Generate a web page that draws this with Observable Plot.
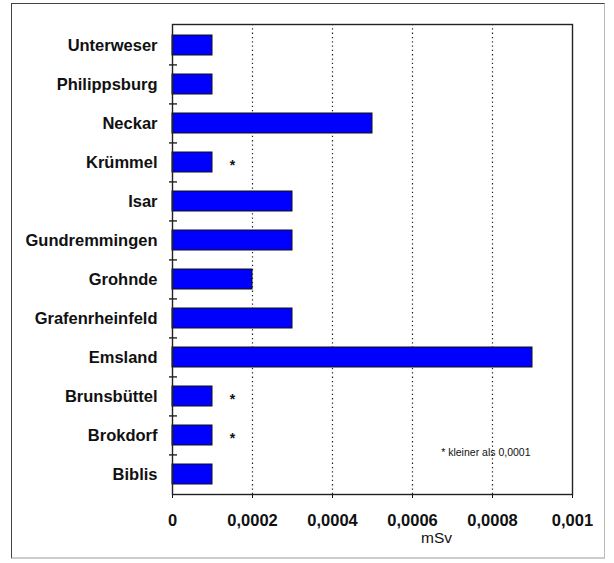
<!DOCTYPE html>
<html>
<head>
<meta charset="utf-8">
<script src="https://cdn.jsdelivr.net/npm/d3@7"></script>
<script src="https://cdn.jsdelivr.net/npm/@observablehq/plot@0.6"></script>
<style>
  html, body { margin: 0; padding: 0; background: #fff; }
  #wrap { position: relative; width: 614px; height: 563px; }
  #border { position: absolute; left: 11px; top: 3px; width: 594px; height: 556px;
            border-left: 1.5px solid #444; border-top: 1.5px solid #444;
            border-right: 1px solid #bbb; border-bottom: 2px solid #ccc; box-sizing: border-box; }
  #chart { position: absolute; left: 0; top: 0; }
</style>
</head>
<body>
<div id="wrap"><div id="border"></div><div id="chart"></div></div>
<script>
const categories = ["Unterweser", "Philippsburg", "Neckar", "Krümmel", "Isar", "Gundremmingen",
  "Grohnde", "Grafenrheinfeld", "Emsland", "Brunsbüttel", "Brokdorf", "Biblis"];
const values = [0.0001, 0.0001, 0.0005, 0.0001, 0.0003, 0.0003,
  0.0002, 0.0003, 0.0009, 0.0001, 0.0001, 0.0001];
const belowLimit = [false, false, false, true, false, false,
  false, false, false, true, true, false];
const xTicks = [0, 0.0002, 0.0004, 0.0006, 0.0008, 0.001];
const xTickLabels = ["0", "0,0002", "0,0004", "0,0006", "0,0008", "0,001"];
const gridTicks = [0.0002, 0.0004, 0.0006, 0.0008];
const unitLabel = "mSv";
const footnote = "* kleiner als 0,0001";

const data = categories.map((c, i) => ({name: c, value: values[i], flag: belowLimit[i]}));

const W = 614, H = 563, mL = 172, mR = 42, mT = 24, mB = 69;
const step = (H - mT - mB) / categories.length;
const pxPerUnit = (W - mL - mR) / 0.001;

const plot = Plot.plot({
  width: W, height: H,
  marginLeft: mL, marginRight: mR, marginTop: mT, marginBottom: mB,
  style: {fontFamily: "'Liberation Sans', Arial, sans-serif", color: "#111", background: "transparent"},
  x: {domain: [0, 0.001]},
  y: {domain: categories, paddingInner: 0.49, paddingOuter: 0.245},
  marks: [
    Plot.gridX(gridTicks, {stroke: "#222", strokeOpacity: 1, strokeDasharray: "1.3,3", strokeWidth: 1.2}),
    Plot.barX(data, {x: "value", y: "name", fill: "#0000ff", stroke: "#111", strokeWidth: 1}),
    Plot.text(data.filter(d => d.flag), {x: "value", y: "name", text: () => "*", dx: 20, dy: 3,
      fontSize: 14, fontWeight: "bold", fill: "#111"}),
    Plot.ruleY(categories.slice(1), {y: d => d, dy: -step / 2,
      x1: -3 / pxPerUnit, x2: 5 / pxPerUnit, stroke: "#111", strokeWidth: 1.3}),
    Plot.axisY({tickSize: 0, tickPadding: 15, fontSize: 16.5, fontWeight: "bold", label: null}),
    Plot.axisX(xTicks, {tickSize: 4, tickPadding: 16, fontSize: 16.5, fontWeight: "bold",
      tickFormat: (d, i) => xTickLabels[xTicks.indexOf(d)], label: null}),
    Plot.text([unitLabel], {frameAnchor: "bottom", dx: 64, dy: 48, text: d => d,
      fontSize: 15.5, fill: "#111"}),
    Plot.text([footnote], {frameAnchor: "bottom-right", dx: -42, dy: -39, text: d => d,
      textAnchor: "end", fontSize: 10.5, letterSpacing: "0.4px", fill: "#111"}),
    Plot.frame({stroke: "#222", strokeWidth: 1.4})
  ]
});
document.getElementById("chart").appendChild(plot);
</script>
</body>
</html>
